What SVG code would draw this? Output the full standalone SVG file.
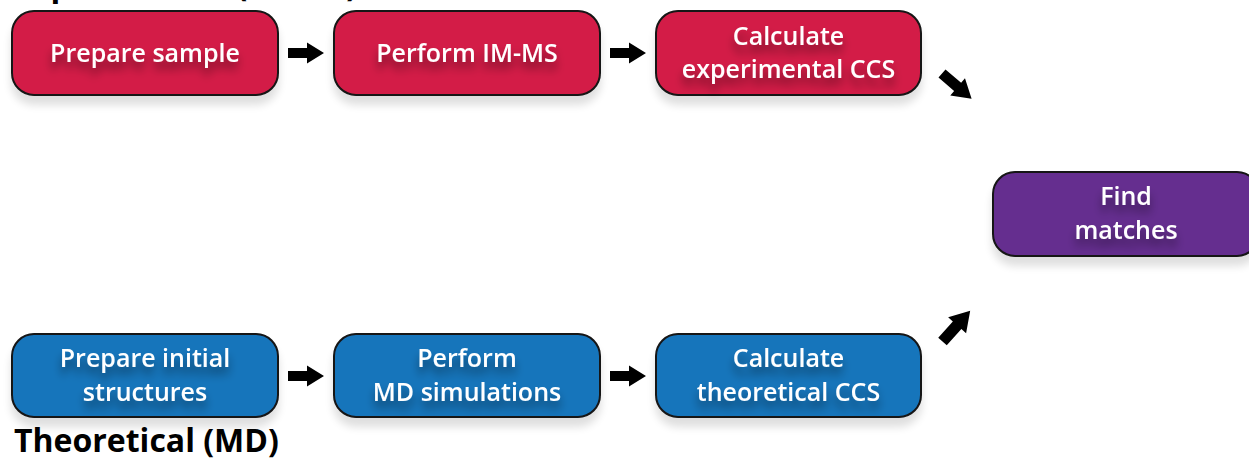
<svg xmlns="http://www.w3.org/2000/svg" width="1249" height="461" viewBox="0 0 1249 461">
<defs>
<style>
.box{stroke:#141414;stroke-width:2}
.red{fill:#D31F47}
.blue{fill:#1474BB}
.purple{fill:#652D8F}
.lbl{font-family:"Open Sans","Liberation Sans",sans-serif;font-weight:600;font-size:25px;fill:#fff;text-anchor:middle}
.title{font-family:"Open Sans","Liberation Sans",sans-serif;font-weight:700;font-size:32px;fill:#000}
.arrow{fill:#000}
</style>
<filter id="tshadow" x="-20%" y="-50%" width="140%" height="220%">
<feGaussianBlur in="SourceAlpha" stdDeviation="5" result="b"/>
<feOffset in="b" dy="8" result="o"/>
<feComponentTransfer in="o" result="s"><feFuncA type="linear" slope="0.45"/></feComponentTransfer>
<feMerge><feMergeNode in="s"/><feMergeNode in="SourceGraphic"/></feMerge>
</filter>
<filter id="bshadow" x="-10%" y="-20%" width="120%" height="160%">
<feGaussianBlur in="SourceAlpha" stdDeviation="4" result="b"/>
<feOffset in="b" dy="9" result="o"/>
<feComponentTransfer in="o" result="s"><feFuncA type="linear" slope="0.13"/></feComponentTransfer>
<feMerge><feMergeNode in="s"/><feMergeNode in="SourceGraphic"/></feMerge>
</filter>
<path id="arr" d="M0,-5 L19,-5 L19,-10.5 L36,0 L19,10.5 L19,5 L0,5 Z"/>
</defs>
<rect width="1249" height="461" fill="#fff"/>

<text class="title" x="14" y="-4">Experimental (IM-MS)</text>
<text class="title" x="14" y="452">Theoretical (MD)</text>

<g id="prepare-sample">
<rect class="box red" x="12" y="11" width="266" height="84" rx="22" filter="url(#bshadow)"/>
<text class="lbl" x="145" y="62" filter="url(#tshadow)">Prepare sample</text>
</g>
<g id="perform-imms">
<rect class="box red" x="334" y="11" width="266" height="84" rx="22" filter="url(#bshadow)"/>
<text class="lbl" x="467" y="62" filter="url(#tshadow)">Perform IM-MS</text>
</g>
<g id="calc-exp-ccs">
<rect class="box red" x="656" y="11" width="265" height="84" rx="22" filter="url(#bshadow)"/>
<text class="lbl" x="788.5" y="45" filter="url(#tshadow)"><tspan x="788.5">Calculate</tspan><tspan x="788.5" y="78">experimental CCS</tspan></text>
</g>

<g id="find-matches">
<rect class="box purple" x="993" y="172" width="266" height="84" rx="22" filter="url(#bshadow)"/>
<text class="lbl" x="1126" y="205" filter="url(#tshadow)"><tspan x="1126">Find</tspan><tspan x="1126" y="239">matches</tspan></text>
</g>

<g id="prepare-structures">
<rect class="box blue" x="12" y="334" width="266" height="83" rx="22" filter="url(#bshadow)"/>
<text class="lbl" x="145" y="367" filter="url(#tshadow)"><tspan x="145">Prepare initial</tspan><tspan x="145" y="401">structures</tspan></text>
</g>
<g id="perform-md">
<rect class="box blue" x="334" y="334" width="266" height="83" rx="22" filter="url(#bshadow)"/>
<text class="lbl" x="467" y="367" filter="url(#tshadow)"><tspan x="467">Perform</tspan><tspan x="467" y="401">MD simulations</tspan></text>
</g>
<g id="calc-theo-ccs">
<rect class="box blue" x="656" y="334" width="265" height="83" rx="22" filter="url(#bshadow)"/>
<text class="lbl" x="788.5" y="367" filter="url(#tshadow)"><tspan x="788.5">Calculate</tspan><tspan x="788.5" y="401">theoretical CCS</tspan></text>
</g>

<g id="connectors" class="arrow">
<use href="#arr" transform="translate(288,53)"/>
<use href="#arr" transform="translate(610,53)"/>
<use href="#arr" transform="translate(288,376)"/>
<use href="#arr" transform="translate(610,376)"/>
<use href="#arr" transform="translate(942,73.5) rotate(40.4) scale(1.08)"/>
<use href="#arr" transform="translate(942.5,341.5) rotate(-48) scale(1.15)"/>
</g>
</svg>
